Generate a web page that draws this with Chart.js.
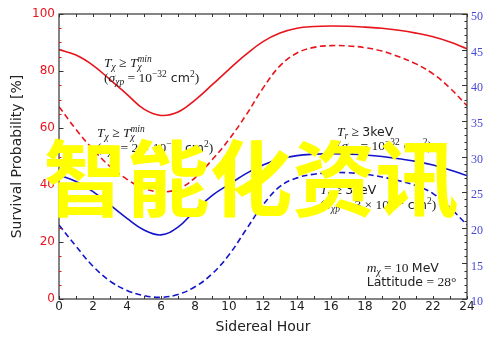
<!DOCTYPE html>
<html>
<head>
<meta charset="utf-8">
<script src="https://cdn.jsdelivr.net/npm/chart.js@4.4.1/dist/chart.umd.min.js"></script>
<style>
  html, body { margin: 0; padding: 0; background: #fff; }
</style>
</head>
<body>
<canvas id="chart" width="500" height="341"></canvas>
<script>
// sidereal hour grid
const hours = [0, 1, 2, 3, 4, 5, 6, 7, 8, 9, 10, 11, 12, 13, 14, 15, 16, 17, 18, 19, 20, 21, 22, 23, 24]

// survival probability [%]
const redSolid  = [87.5, 85.6, 82, 77, 71.8, 66.6, 64.4, 65.6, 69.8, 75.1, 80.6, 85.8, 90.3, 93.3, 95, 95.6, 95.8, 95.7, 95.4, 95, 94.3, 93.3, 92, 90.2, 87.8]
const redDashed = [67.5, 59.5, 52.5, 46.5, 42, 38.8, 37.6, 38.6, 42.5, 48.8, 56, 64.5, 74, 81.8, 86.3, 88.3, 88.9, 88.8, 88.2, 87, 85, 82.5, 79, 74, 67.8]
const blueSolid = [43.5, 41.2, 37.7, 33, 28.3, 24.2, 22.5, 25.2, 31, 36.3, 40.2, 44, 47, 49.1, 50.3, 50.8, 51, 50.8, 50.5, 50, 49.2, 48.3, 47, 45.3, 43.3]
const blueDashed = [26, 18.5, 11.5, 6.3, 3, 1.2, 0.6, 1.6, 4.3, 8.8, 15.5, 24.3, 33, 39.5, 42.5, 43.8, 44.3, 44.3, 43.8, 42.8, 41.5, 39.8, 37, 32, 26]

const xTicks = [0, 2, 4, 6, 8, 10, 12, 14, 16, 18, 20, 22, 24]
const leftTicks = [0, 20, 40, 60, 80, 100]
const rightTicks = [10, 15, 20, 25, 30, 35, 40, 45, 50]

const RED = '#e8141c'
const BLUE = '#1414cc'
const INK = '#222'

// text runs: [text, style]
const notes = [
  { x: 2.65, y: 81.4, lines: [
    [['T', 'it'], ['χ', 'sub'], [' ≥ ', 'rm'], ['T', 'it'], ['min|χ', 'supsub']],
    [['(', 'rm'], ['σ', 'it'], ['χp', 'sub'], [' = 10', 'rm'], ['−32', 'sup'], [' cm', 'sf'], ['2', 'sup'], [')', 'rm']]
  ]},
  { x: 2.24, y: 56.8, lines: [
    [['T', 'it'], ['χ', 'sub'], [' ≥ ', 'rm'], ['T', 'it'], ['min|χ', 'supsub']],
    [['(', 'rm'], ['σ', 'it'], ['χp', 'sub'], [' = 2 × 10', 'rm'], ['−32', 'sup'], [' cm', 'sf'], ['2', 'sup'], [')', 'rm']]
  ]},
  { x: 16.35, y: 57.2, lines: [
    [['T', 'it'], ['r', 'sub'], [' ≥ ', 'rm'], ['3keV', 'sf']],
    [['(', 'rm'], ['σ', 'it'], ['χp', 'sub'], [' = 10', 'rm'], ['−32', 'sup'], [' cm', 'sf'], ['2', 'sup'], [')', 'rm']]
  ]},
  { x: 15.35, y: 36.8, lines: [
    [['T', 'it'], ['r', 'sub'], [' ≥ ', 'rm'], ['3keV', 'sf']],
    [['(', 'rm'], ['σ', 'it'], ['χp', 'sub'], [' = 3 × 10', 'rm'], ['−32', 'sup'], [' cm', 'sf'], ['2', 'sup'], [')', 'rm']]
  ]},
  { x: 18.1, y: 9.6, lines: [
    [['m', 'it'], ['χ', 'sub'], [' = 10 ', 'rm'], ['MeV', 'sf']],
    [['Lattitude', 'sf'], [' = 28°', 'rm']]
  ]}
]

const FONTS = {
  it: 'italic 13.5px "Liberation Serif"',
  rm: '13.5px "Liberation Serif"',
  sf: '12.5px "DejaVu Sans"',
  sub: 'italic 9.5px "Liberation Serif"',
  sup: '9.5px "Liberation Serif"'
}

function drawRuns(ctx, x, y, runs) {
  for (const [t, style] of runs) {
    if (style === 'supsub') {
      const [up, down] = t.split('|')
      ctx.font = 'italic 9.5px "Liberation Serif"'
      ctx.fillText(up, x, y - 5)
      ctx.fillText(down, x, y + 3)
      x += Math.max(ctx.measureText(up).width, ctx.measureText(down).width)
      continue
    }
    ctx.font = FONTS[style]
    const dy = style === 'sub' ? 3 : style === 'sup' ? -5 : 0
    ctx.fillText(t, x, y + dy)
    x += ctx.measureText(t).width
  }
}

function inwardTicks(ctx, scale, area, values, len, where, color) {
  ctx.strokeStyle = color
  ctx.lineWidth = 1
  ctx.beginPath()
  for (const v of values) {
    const p = Math.round(scale.getPixelForValue(v)) + 0.5
    if (where === 'bottom') { ctx.moveTo(p, area.bottom); ctx.lineTo(p, area.bottom - len) }
    if (where === 'top') { ctx.moveTo(p, area.top); ctx.lineTo(p, area.top + len) }
    if (where === 'left') { ctx.moveTo(area.left, p); ctx.lineTo(area.left + len, p) }
    if (where === 'right') { ctx.moveTo(area.right, p); ctx.lineTo(area.right - len, p) }
  }
  ctx.stroke()
}

function steps(from, to, step) {
  const out = []
  for (let v = from; v <= to + 1e-9; v += step) out.push(v)
  return out
}

const decorations = {
  id: 'decorations',
  afterDatasetsDraw(chart) {
    const { ctx, chartArea: a, scales } = chart
    ctx.save()

    // frame
    ctx.strokeStyle = '#333'
    ctx.lineWidth = 1.2
    ctx.strokeRect(a.left, a.top, a.right - a.left, a.bottom - a.top)

    // ticks pointing into the plot
    inwardTicks(ctx, scales.x, a, steps(0, 24, 1), 3, 'bottom', '#333')
    inwardTicks(ctx, scales.x, a, steps(0, 24, 1), 3, 'top', '#333')
    inwardTicks(ctx, scales.y, a, steps(0, 100, 5), 2.5, 'left', RED)
    inwardTicks(ctx, scales.y, a, leftTicks, 4.5, 'left', '#333')
    inwardTicks(ctx, scales.y2, a, steps(10, 50, 1), 2.5, 'right', '#333')
    inwardTicks(ctx, scales.y2, a, rightTicks, 5, 'right', '#333')

    // curve labels
    ctx.fillStyle = INK
    ctx.textBaseline = 'alphabetic'
    ctx.textAlign = 'left'
    for (const n of notes) {
      const px = scales.x.getPixelForValue(n.x)
      const py = scales.y.getPixelForValue(n.y)
      n.lines.forEach((runs, i) => drawRuns(ctx, px, py + i * 14.5, runs))
    }
    ctx.restore()
  },
  afterDraw(chart) {
    const { ctx } = chart
    ctx.save()
    ctx.fillStyle = '#ffff00'
    ctx.font = 'bold 83px "Noto Sans CJK SC"'
    ctx.textAlign = 'center'
    ctx.textBaseline = 'middle'
    ctx.fillText('智能化资讯', 251, 178)
    ctx.restore()
  }
}

const line = (data, color, dashed) => ({
  data: hours.map((h, i) => ({ x: h, y: data[i] })),
  borderColor: color,
  borderWidth: 1.6,
  borderDash: dashed ? [6, 3.5] : [],
  pointRadius: 0,
  tension: 0.4,
  fill: false,
  yAxisID: 'y'
})

new Chart(document.getElementById('chart'), {
  type: 'line',
  data: {
    datasets: [
      line(redSolid, RED, false),
      line(redDashed, RED, true),
      line(blueSolid, BLUE, false),
      line(blueDashed, BLUE, true)
    ]
  },
  options: {
    responsive: false,
    animation: false,
    devicePixelRatio: 1,
    layout: { padding: { top: 14, left: 0, right: 0, bottom: 0 } },
    plugins: { legend: { display: false }, tooltip: { enabled: false } },
    scales: {
      x: {
        type: 'linear',
        min: 0,
        max: 24,
        afterBuildTicks: s => { s.ticks = xTicks.map(v => ({ value: v })) },
        afterFit: s => { s.height = 42 },
        grid: { display: false, drawTicks: false },
        border: { display: false },
        ticks: { color: INK, padding: 1, maxRotation: 0, font: { family: 'DejaVu Sans', size: 12 } },
        title: { display: true, text: 'Sidereal Hour', color: INK, font: { family: 'DejaVu Sans', size: 14 }, padding: { top: 0, bottom: 5 } }
      },
      y: {
        position: 'left',
        min: 0,
        max: 100,
        afterBuildTicks: s => { s.ticks = leftTicks.map(v => ({ value: v })) },
        afterFit: s => { s.width = 59 },
        grid: { display: false, drawTicks: false },
        border: { display: false },
        ticks: { color: RED, padding: 4, font: { family: 'DejaVu Sans', size: 12 } },
        title: { display: true, text: 'Survival Probability [%]', color: INK, font: { family: 'DejaVu Sans', size: 14 }, padding: { top: 9, bottom: 0 } }
      },
      y2: {
        position: 'right',
        min: 10,
        max: 50,
        afterBuildTicks: s => { s.ticks = rightTicks.map(v => ({ value: v })) },
        afterFit: s => { s.width = 33 },
        grid: { display: false, drawTicks: false },
        border: { display: false },
        ticks: { color: '#4848d8', padding: 4, labelOffset: 3, font: { family: 'Liberation Serif', size: 12 } }
      }
    }
  },
  plugins: [decorations]
})
</script>
</body>
</html>
